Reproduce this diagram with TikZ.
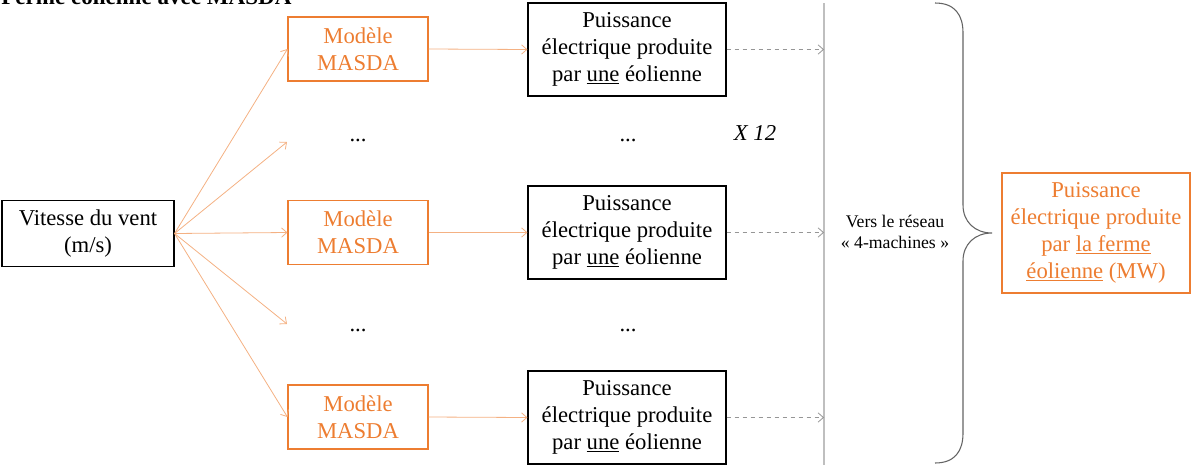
\documentclass[tikz,border=0pt]{standalone}
\usepackage{fontspec}
\setmainfont{Liberation Serif}
\usetikzlibrary{arrows.meta,positioning}
\definecolor{masdaorange}{RGB}{237,125,49}
\definecolor{fanorange}{RGB}{244,177,131}
\definecolor{busgray}{RGB}{191,191,191}
\definecolor{dashgray}{RGB}{150,150,150}
\definecolor{bracegray}{RGB}{100,100,100}

\begin{document}
\begin{tikzpicture}[x=0.75pt, y=-0.75pt,
  every node/.style={font=\fontsize{17}{20.25}\selectfont},
  blackbox/.style={draw=black, line width=0.8pt, inner sep=0pt, align=center},
  masda/.style={draw=masdaorange, line width=0.8pt, text=masdaorange, inner sep=0pt,
                minimum width=105pt, minimum height=48pt, align=center},
  puiss/.style={blackbox, minimum width=148.5pt, minimum height=69.75pt},
  fan/.style={-{Straight Barb[length=4pt,width=7pt]}, fanorange, line width=0.6pt},
  bus/.style={-{Straight Barb[length=4pt,width=7pt]}, dashgray, dashed, line width=0.6pt}
]
\useasboundingbox (0,0) rectangle (1194,464);

% titre (coupe en haut)
\node[anchor=base west, font=\fontsize{17.3}{20}\selectfont\bfseries, inner sep=0pt] (title) at (1,4) {Ferme éolienne avec MASDA};

\node[blackbox, minimum width=129pt, minimum height=50pt] (wind) at (88,233.5) {Vitesse du vent\\(m/s)};

\node[masda] (m1) at (358,49)  {Modèle\\MASDA};
\node[masda] (m2) at (358,232.5) {Modèle\\MASDA};
\node[masda] (m3) at (358,417) {Modèle\\MASDA};

\node[puiss] (p1) at (627,49.5)  {Puissance\\électrique produite\\par \underline{une} éolienne};
\node[puiss] (p2) at (627,232.5) {Puissance\\électrique produite\\par \underline{une} éolienne};
\node[puiss] (p3) at (627,417.5) {Puissance\\électrique produite\\par \underline{une} éolienne};

\node (d1) at (358,140) {...};
\node (d2) at (628,140) {...};
\node (d3) at (358,330) {...};
\node (d4) at (628,330) {...};
\node[font=\fontsize{17}{18}\selectfont\itshape] (x12) at (755,133) {X 12};

\coordinate (f2) at (287,142);
\coordinate (f4) at (287,324);

% reseau
\coordinate (bus top) at (824,3);
\coordinate (bus bot) at (824,466);
\draw[busgray, line width=1.2pt] (bus top) -- (bus bot);
\node[font=\fontsize{13.3}{16}\selectfont, align=center] (grid) at (895,232) {Vers le réseau\\« 4-machines »};

% accolade
\draw[bracegray, line width=0.8pt] (935,3) .. controls (955,3) and (963,15) .. (963,33)
  -- (963,205) .. controls (963,222) and (975,233) .. (992,233)
  .. controls (975,233) and (963,244) .. (963,261)
  -- (963,433) .. controls (963,451) and (955,463) .. (935,463);

\node[masda, minimum width=141pt, minimum height=90pt] (farm) at (1096,233)
  {Puissance\\électrique produite\\par \underline{la ferme}\\\underline{éolienne} (MW)};

\foreach \to in {m1.west, f2, m2.west, f4, m3.west}
  \draw[fan] (wind.east) -- (\to);
\foreach \i in {1,2,3}
  \draw[fan] (m\i.east) -- (p\i.west);
\foreach \i in {1,2,3}
  \draw[bus] (p\i.east) -- (p\i.east -| bus top);
\end{tikzpicture}
\end{document}
